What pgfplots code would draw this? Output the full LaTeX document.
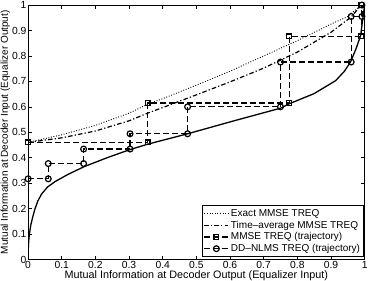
\documentclass[border=0pt]{standalone}
\usepackage{pgfplots}
\pgfplotsset{compat=1.18}
\usepackage{fontspec}
\setmainfont{Liberation Sans}
\begin{document}
\fontsize{10}{11}\selectfont
\begin{tikzpicture}
\begin{axis}[
  scale only axis,
  width=336pt, height=254pt,
  xmin=0, xmax=1, ymin=0, ymax=1,
  xtick={0,0.1,...,1}, ytick={0,0.1,...,1},
  xticklabels={0,0.1,0.2,0.3,0.4,0.5,0.6,0.7,0.8,0.9,1},
  yticklabels={0,0.1,0.2,0.3,0.4,0.5,0.6,0.7,0.8,0.9,1},
  tick align=inside, major tick length=3.5pt,
  tick style={black, line width=0.6pt},
  axis line style={line width=0.8pt},
  /pgf/number format/assume math mode=true,
  ticklabel style={font=\fontsize{10.3}{11}\selectfont, inner sep=1.5pt},
  xlabel={Mutual Information at Decoder Output (Equalizer Input)},
  ylabel={Mutual Information at Decoder Input (Equalizer Output)},
  xlabel style={font=\fontsize{10.8}{11}\selectfont, inner sep=0pt, yshift=0pt},
  ylabel style={font=\fontsize{10}{11}\selectfont, inner sep=0.5pt, yshift=0pt},
  legend style={font=\fontsize{10}{11}\selectfont, draw=black, line width=0.7pt, inner sep=1.5pt, row sep=-1pt, at={(0.998,0.01)}, anchor=south east},
  legend cell align=left,
  legend image code/.code={\draw[#1] (0pt,0pt) -- (24pt,0pt); \draw[#1, only marks, solid] plot coordinates {(12pt,0pt)};},
]
% Exact MMSE TREQ (dotted)
\addplot[black, line width=0.9pt, dash pattern=on 0.9pt off 1.7pt] coordinates {
(0,0.46) (0.1,0.49) (0.2,0.527) (0.3,0.575) (0.355,0.61) (0.4,0.632) (0.5,0.685) (0.6,0.74) (0.7,0.80) (0.8,0.86) (0.9,0.925) (0.95,0.955) (0.99,1.0)};
\addlegendentry{Exact MMSE TREQ}
% Time-average MMSE TREQ (dash-dot)
\addplot[black, line width=1.2pt, dash pattern=on 4.5pt off 2.2pt on 1.2pt off 2.2pt] coordinates {
(0,0.46) (0.1,0.478) (0.2,0.505) (0.3,0.545) (0.355,0.575) (0.4,0.597) (0.5,0.647) (0.6,0.698) (0.7,0.752) (0.8,0.815) (0.9,0.893) (0.96,0.953) (0.99,1.0)};
\addlegendentry{Time--average MMSE TREQ}
% MMSE trajectory
\addplot[black, line width=1.2pt, dash pattern=on 6pt off 3pt, mark=square, mark size=2.4pt, mark options={solid, line width=1.2pt}] coordinates {
(0,0.46) (0.355,0.46) (0.355,0.615) (0.776,0.615) (0.776,0.877) (0.99,0.877) (0.99,1.0)};
\addlegendentry{MMSE TREQ (trajectory)}
% DD-NLMS trajectory
\addplot[black, line width=1.2pt, dash pattern=on 6pt off 3pt, mark=o, mark size=2.9pt, mark options={solid, line width=1.2pt}] coordinates {
(0,0.317) (0.06,0.317) (0.06,0.377) (0.165,0.377) (0.165,0.434) (0.303,0.434) (0.303,0.494) (0.474,0.494) (0.474,0.60) (0.75,0.60) (0.75,0.776) (0.96,0.776) (0.96,0.955) (0.992,0.955) (0.992,1.0)};
\addlegendentry{DD--NLMS TREQ (trajectory)}
% Decoder curve (solid)
\addplot[black, line width=1.3pt, forget plot] coordinates {
(0,0) (0.0005,0.04) (0.002,0.075) (0.004,0.1) (0.008,0.135) (0.014,0.168) (0.02,0.197) (0.029,0.23) (0.04,0.257) (0.058,0.285) (0.08,0.306) (0.118,0.334) (0.167,0.365) (0.237,0.401) (0.303,0.432) (0.355,0.453) (0.474,0.494) (0.612,0.545) (0.751,0.595) (0.776,0.612) (0.85,0.652) (0.914,0.703) (0.94,0.74) (0.958,0.776) (0.975,0.83) (0.988,0.88) (0.995,0.95) (1,1)};
\end{axis}
\end{tikzpicture}
\end{document}
